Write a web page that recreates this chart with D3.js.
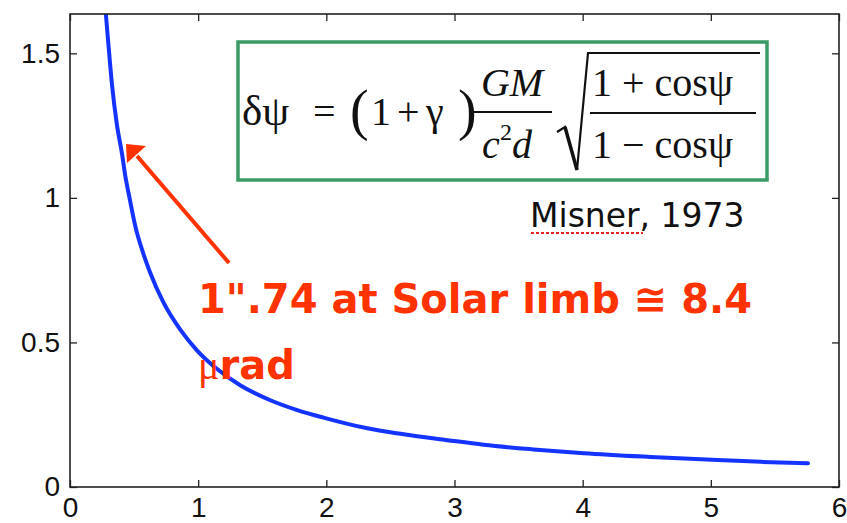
<!DOCTYPE html>
<html>
<head>
<meta charset="utf-8">
<script src="https://cdn.jsdelivr.net/npm/d3@7"></script>
<style>
  body { margin: 0; background: #fff; }
  svg { display: block; }
</style>
</head>
<body>
<div id="chart"></div>
<script>
// values
const xs = [0.279, 0.297, 0.328, 0.367, 0.406, 0.430, 0.469, 0.508, 0.570, 0.625, 0.727, 0.859, 0.992,
            1.148, 1.328, 1.563, 1.773, 1.977, 2.320, 2.578, 2.945, 3.227, 3.617, 4.008, 4.531, 5.055, 5.391, 5.758];
const ys = [1.640, 1.545, 1.390, 1.250, 1.152, 1.080, 0.990, 0.905, 0.810, 0.742, 0.640, 0.545, 0.472,
            0.408, 0.352, 0.300, 0.266, 0.240, 0.203, 0.184, 0.162, 0.146, 0.130, 0.117, 0.104, 0.093, 0.087, 0.082];
const xTicks = [0, 1, 2, 3, 4, 5, 6];
const yTicks = [0, 0.5, 1, 1.5];
const yTickLabels = ["0", "0.5", "1", "1.5"];

const width = 847, height = 523;
const plotL = 70, plotR = 839, plotT = 14, plotB = 487;
const blue = "#1433ff", red = "#ff3300", green = "#3a9b66";

const svg = d3.select("#chart").append("svg")
    .attr("width", width)
    .attr("height", height)
    .attr("viewBox", `0 0 ${width} ${height}`);

const xScale = d3.scaleLinear().domain([0, 6]).range([plotL, plotR]);
const yScale = d3.scaleLinear().domain([0, 1.636]).range([plotB, plotT]);

svg.append("defs").append("clipPath").attr("id", "clip")
    .append("rect")
    .attr("x", plotL).attr("y", plotT)
    .attr("width", plotR - plotL).attr("height", plotB - plotT);

//curve
const line = d3.line()
    .x((d, i) => xScale(xs[i]))
    .y((d, i) => yScale(ys[i]))
    .curve(d3.curveMonotoneX);

svg.append("path")
    .datum(xs)
    .attr("d", line)
    .attr("clip-path", "url(#clip)")
    .attr("fill", "none")
    .attr("stroke", blue)
    .attr("stroke-width", 4)
    .attr("stroke-linejoin", "round")
    .attr("stroke-linecap", "round");

//axes, ticks inside on all four sides
const tickLen = 7;
const axisFont = "'Liberation Sans', Arial, sans-serif";

svg.append("g")
    .attr("transform", `translate(0,${plotB})`)
    .call(d3.axisBottom(xScale).tickValues(xTicks).tickSizeInner(-tickLen).tickSizeOuter(0).tickPadding(10)
        .tickFormat(d3.format("d")))
    .call(g => g.select(".domain").remove())
    .call(g => g.selectAll("text").attr("font-size", 28).attr("font-family", axisFont).attr("fill", "#111"));

svg.append("g")
    .attr("transform", `translate(0,${plotT})`)
    .call(d3.axisTop(xScale).tickValues(xTicks).tickSizeInner(-tickLen).tickSizeOuter(0).tickFormat(""))
    .call(g => g.select(".domain").remove());

svg.append("g")
    .attr("transform", `translate(${plotL},0)`)
    .call(d3.axisLeft(yScale).tickValues(yTicks).tickSizeInner(-tickLen).tickSizeOuter(0).tickPadding(10)
        .tickFormat((d, i) => yTickLabels[i]))
    .call(g => g.select(".domain").remove())
    .call(g => g.selectAll("text").attr("font-size", 28).attr("font-family", axisFont).attr("fill", "#111"));

svg.append("g")
    .attr("transform", `translate(${plotR},0)`)
    .call(d3.axisRight(yScale).tickValues(yTicks).tickSizeInner(-tickLen).tickSizeOuter(0).tickFormat(""))
    .call(g => g.select(".domain").remove());

svg.selectAll(".tick line").attr("stroke", "#222").attr("stroke-width", 1.3);

svg.append("rect")
    .attr("x", plotL).attr("y", plotT)
    .attr("width", plotR - plotL).attr("height", plotB - plotT)
    .attr("fill", "none")
    .attr("stroke", "#222")
    .attr("stroke-width", 1.6);

//formula box
svg.append("rect")
    .attr("x", 238).attr("y", 42)
    .attr("width", 529).attr("height", 138)
    .attr("fill", "#fff")
    .attr("stroke", green)
    .attr("stroke-width", 3.5);

const serif = "'Liberation Serif', 'Times New Roman', serif";
const f = svg.append("g").attr("font-family", serif).attr("fill", "#111");

function tx(x, y, s, size, opts = {}) {
    const t = f.append("text")
        .attr("x", x).attr("y", y)
        .attr("font-size", size)
        .text(s);
    if (opts.italic) t.attr("font-style", "italic");
    if (opts.anchor) t.attr("text-anchor", opts.anchor);
    return t;
}

tx(242, 125, "δψ", 43);
tx(313, 125, "=", 40);
tx(350, 129, "(", 56);
tx(371, 125, "1", 40);
tx(397, 125, "+", 40);
tx(426, 125, "γ", 40);
tx(458, 129, ")", 56);

//GM / c²d
tx(512, 96, "GM", 40, { italic: true, anchor: "middle" });
f.append("line").attr("x1", 470).attr("x2", 552).attr("y1", 112).attr("y2", 112)
    .attr("stroke", "#111").attr("stroke-width", 2);
const cd = tx(507, 158, "c", 40, { italic: true, anchor: "middle" });
cd.append("tspan").attr("font-size", 24).attr("font-style", "normal").attr("dy", -18).text("2");
cd.append("tspan").attr("dy", 18).text("d");

//radical
f.append("path")
    .attr("d", "M557,132 L565,127 L577,170 L588,53 L760,53")
    .attr("fill", "none")
    .attr("stroke", "#111")
    .attr("stroke-width", 2.2)
    .attr("stroke-linejoin", "miter");
f.append("path")
    .attr("d", "M565,127 L577,170")
    .attr("stroke", "#111")
    .attr("stroke-width", 3.5);

tx(592, 96, "1 + cosψ", 40);
f.append("line").attr("x1", 590).attr("x2", 756).attr("y1", 113).attr("y2", 113)
    .attr("stroke", "#111").attr("stroke-width", 2);
tx(592, 158, "1 − cosψ", 40);

//citation
const sans = "'DejaVu Sans', Verdana, sans-serif";
svg.append("text")
    .attr("x", 530).attr("y", 227)
    .attr("font-family", sans)
    .attr("font-size", 33)
    .attr("fill", "#111")
    .text("Misner, 1973");
svg.append("line")
    .attr("x1", 531).attr("x2", 643).attr("y1", 233).attr("y2", 233)
    .attr("stroke", "#e8231f")
    .attr("stroke-width", 2)
    .attr("stroke-dasharray", "3,2");

//arrow
svg.append("line")
    .attr("x1", 229).attr("y1", 263)
    .attr("x2", 137).attr("y2", 156)
    .attr("stroke", red)
    .attr("stroke-width", 4);
svg.append("polygon")
    .attr("points", "146,146 127,163 126,144")
    .attr("fill", red);

//annotation
svg.append("text")
    .attr("x", 198).attr("y", 313)
    .attr("font-family", sans)
    .attr("font-weight", "bold")
    .attr("font-size", 40)
    .attr("fill", red)
    .text("1\".74 at Solar limb ≅ 8.4");

const t2 = svg.append("text")
    .attr("x", 198).attr("y", 379)
    .attr("font-family", sans)
    .attr("font-weight", "bold")
    .attr("font-size", 40)
    .attr("fill", red);
t2.append("tspan").attr("font-family", serif).attr("font-weight", "normal").text("μ");
t2.append("tspan").text("rad");
</script>
</body>
</html>
